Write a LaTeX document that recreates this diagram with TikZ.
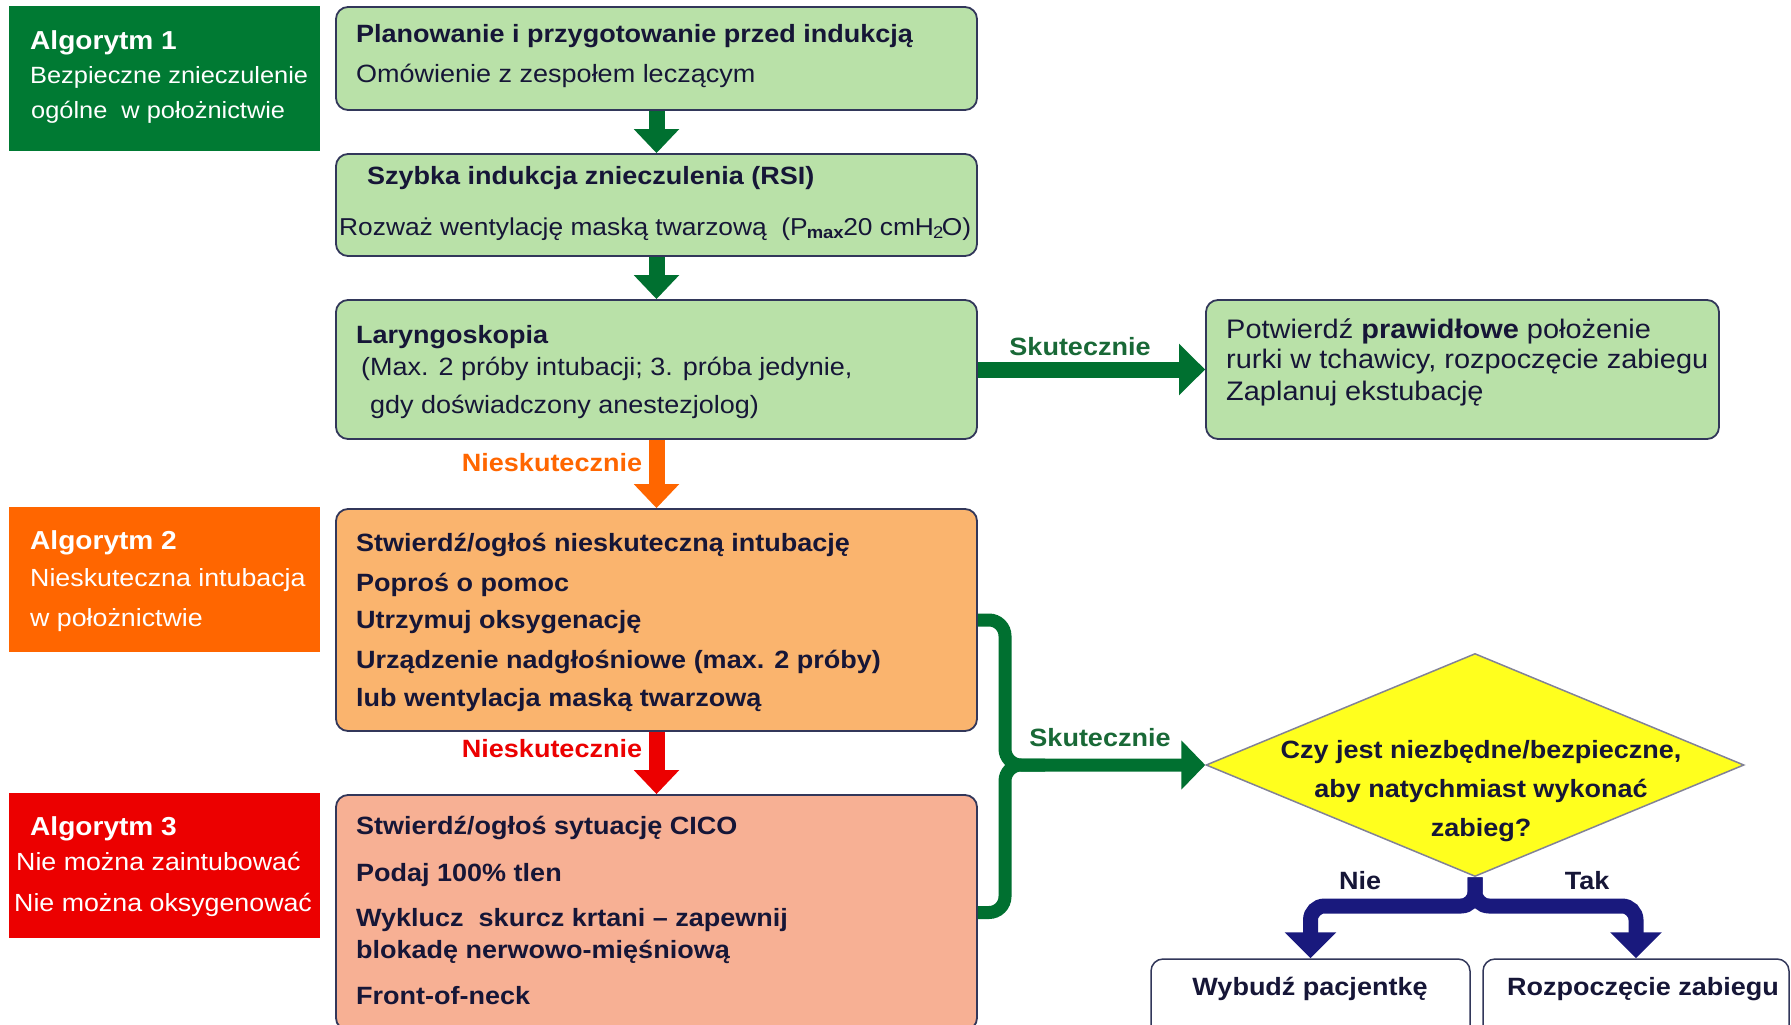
\documentclass[tikz,border=0pt]{standalone}
\usepackage{fontspec}
\setmainfont[FakeStretch=1.08]{Liberation Sans}
\usetikzlibrary{arrows.meta,shapes.geometric}
\definecolor{algA}{RGB}{0,122,51}
\definecolor{algB}{RGB}{255,102,0}
\definecolor{algC}{RGB}{236,0,0}
\definecolor{fillG}{RGB}{185,225,168}
\definecolor{fillO}{RGB}{250,180,110}
\definecolor{fillS}{RGB}{247,176,148}
\definecolor{edgeC}{RGB}{50,55,90}
\definecolor{txt}{RGB}{22,22,55}
\definecolor{arrG}{RGB}{0,112,48}
\definecolor{arrB}{RGB}{25,25,125}
\definecolor{yel}{RGB}{255,255,30}
\definecolor{labG}{RGB}{25,105,55}
\definecolor{diaE}{RGB}{130,130,150}
\begin{document}
\begin{tikzpicture}[x=1pt,y=-1pt,
  box/.style={draw=edgeC, line width=1.8pt, rounded corners=12pt, inner sep=0pt},
  algbox/.style={inner sep=0pt},
  tx/.style={anchor=base west, inner sep=0pt, text=txt, font=\fontsize{25}{30}\selectfont},
  txb/.style={tx, font=\fontsize{25}{30}\selectfont\bfseries},
  tr/.style={tx, font=\fontsize{26.8}{30}\selectfont},
  at1/.style={anchor=base west, inner sep=0pt, text=white, font=\fontsize{26}{30}\selectfont\bfseries},
  at2/.style={anchor=base west, inner sep=0pt, text=white, font=\fontsize{23.5}{30}\selectfont},
  at3/.style={anchor=base west, inner sep=0pt, text=white, font=\fontsize{24.8}{30}\selectfont},
  lab/.style={inner sep=0pt, font=\fontsize{25}{30}\selectfont\bfseries},
  garrow/.style={draw=arrG, line width=16pt, -{Triangle[width=44pt,length=24pt]}},
]
\clip (0,0) rectangle (1791,1025);
\fill[white] (0,0) rectangle (1791,1025);

% algorithm headers
\node[algbox, fill=algA, minimum width=311pt, minimum height=145pt] (a1) at (164.5,78.5) {};
\node[algbox, fill=algB, minimum width=311pt, minimum height=145pt] (a2) at (164.5,579.5) {};
\node[algbox, fill=algC, minimum width=311pt, minimum height=145pt] (a3) at (164.5,865.5) {};

\node[at1] (a1t1) at (30,49) {Algorytm 1};
\node[at2] (a1t2) at (30,83) {Bezpieczne znieczulenie};
\node[at2] (a1t3) at (31,118) {ogólne\ \ w położnictwie};

\node[at1] (a2t1) at (30,549) {Algorytm 2};
\node[at3] (a2t2) at (30,586) {Nieskuteczna intubacja};
\node[at3] (a2t3) at (30,626) {w położnictwie};

\node[at1] (a3t1) at (30,835) {Algorytm 3};
\node[at3] (a3t2) at (16,870) {Nie można zaintubować};
\node[at3] (a3t3) at (14,911) {Nie można oksygenować};

% main boxes
\node[box, fill=fillG, minimum width=641pt, minimum height=103pt] (b1) at (656.5,58.5) {};
\node[box, fill=fillG, minimum width=641pt, minimum height=102pt] (b2) at (656.5,205) {};
\node[box, fill=fillG, minimum width=641pt, minimum height=139pt] (b3) at (656.5,369.5) {};
\node[box, fill=fillG, minimum width=513pt, minimum height=139pt] (r1) at (1462.5,369.5) {};
\node[box, fill=fillO, minimum width=641pt, minimum height=222pt] (b4) at (656.5,620) {};
\node[box, fill=fillS, minimum width=641pt, minimum height=235pt] (b5) at (656.5,912.5) {};
\node[diamond, draw=diaE, line width=1.5pt, fill=yel, minimum width=538pt, minimum height=223pt, inner sep=0pt] (dia) at (1475,765) {};
\node[box, draw=edgeC, line width=1.5pt, fill=white, minimum width=319pt, minimum height=86pt] (w1) at (1310.5,1002) {};
\node[box, draw=edgeC, line width=1.5pt, fill=white, minimum width=306pt, minimum height=86pt] (w2) at (1636,1002) {};

% texts
\node[txb] (b1t1) at (356,43) {Planowanie i przygotowanie przed indukcją};
\node[tx] (b1t2) at (356,82) {Omówienie z zespołem leczącym};
\node[txb] (b2t1) at (367,184) {Szybka indukcja znieczulenia (RSI)};
\node[tx, font=\fontsize{24.4}{30}\selectfont] (b2t2) at (339,235) {Rozważ wentylację maską twarzową\ \ (P\kern-1pt\textsubscript{\textbf{max}}\kern-1pt20 cmH\kern-1pt\textsubscript{2}\kern-2pt O)};
\node[txb] (b3t1) at (356,343) {Laryngoskopia};
\node[tx] (b3t2) at (361,375) {(Max. 2 próby intubacji; 3. próba jedynie,};
\node[tx] (b3t3) at (370,413) {gdy doświadczony anestezjolog)};
\node[tr] (r1t1) at (1226,338) {Potwierdź \textbf{prawidłowe} położenie};
\node[tr] (r1t2) at (1226,368) {rurki w tchawicy, rozpoczęcie zabiegu};
\node[tr] (r1t3) at (1226,400) {Zaplanuj ekstubację};
\node[txb] (b4t1) at (356,551) {Stwierdź/ogłoś nieskuteczną intubację};
\node[txb] (b4t2) at (356,591) {Poproś o pomoc};
\node[txb] (b4t3) at (356,628) {Utrzymuj oksygenację};
\node[txb] (b4t4) at (356,668) {Urządzenie nadgłośniowe (max. 2 próby)};
\node[txb] (b4t5) at (356,706) {lub wentylacja maską twarzową};
\node[txb] (b5t1) at (356,834) {Stwierdź/ogłoś sytuację CICO};
\node[txb] (b5t2) at (356,881) {Podaj 100\% tlen};
\node[txb] (b5t3) at (356,926) {Wyklucz\ \ skurcz krtani – zapewnij};
\node[txb] (b5t4) at (356,958) {blokadę nerwowo-mięśniową};
\node[txb] (b5t5) at (356,1004) {Front-of-neck};
\node[inner sep=0pt, text=txt, align=center, font=\fontsize{25}{39}\selectfont\bfseries] (diat) at (1481,791) {Czy jest niezbędne/bezpieczne,\\aby natychmiast wykonać\\zabieg?};
\node[lab, text=txt] (w1t) at (1310,989) {Wybudź pacjentkę};
\node[lab, text=txt] (w2t) at (1643,989) {Rozpoczęcie zabiegu};

% connectors
\draw[garrow] (b1) -- (b2);
\draw[garrow] (b2) -- (b3);
\draw[draw=arrG, line width=16pt, -{Triangle[width=50pt,length=26pt]}] (b3) -- (r1);
\draw[draw=algB, line width=16pt, -{Triangle[width=44pt,length=24pt]}] (b3) -- (b4);
\draw[draw=algC, line width=16pt, -{Triangle[width=44pt,length=24pt]}] (b4) -- (b5);

\coordinate (jn) at (1005,765);
\draw[arrG, line width=13pt, rounded corners=16pt, -{Triangle[width=48pt,length=24pt]}] (b4.east) -| (jn) -- (dia.west);
\draw[arrG, line width=13pt, rounded corners=16pt] (b5.east) -| (jn) -- ++(40,0);

\coordinate (sp) at (1475,906);
\draw[arrB, line width=15pt, rounded corners=14pt, -{Triangle[width=50pt,length=26pt]}] (dia.south) -- (sp) -| (w1.north);
\draw[arrB, line width=15pt, rounded corners=14pt, -{Triangle[width=50pt,length=26pt]}] (dia.south) -- (sp) -| (w2.north);

% labels
\node[lab, text=labG] (l1) at (1080,347) {Skutecznie};
\node[lab, text=algB] (l2) at (552,463) {Nieskutecznie};
\node[lab, text=algC] (l3) at (552,749) {Nieskutecznie};
\node[lab, text=labG] (l4) at (1100,738) {Skutecznie};
\node[lab, text=txt] (l5) at (1360,881) {Nie};
\node[lab, text=txt] (l6) at (1587,881) {Tak};
\end{tikzpicture}
\end{document}
